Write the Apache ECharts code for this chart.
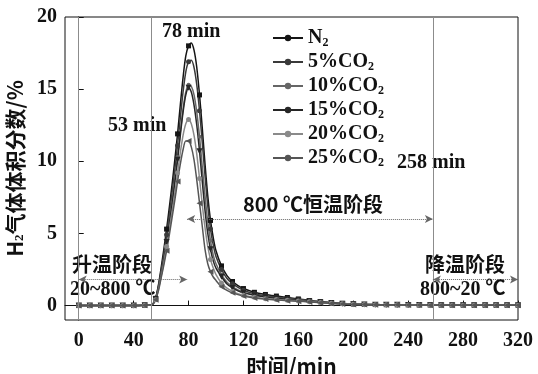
<!DOCTYPE html>
<html>
<head>
<meta charset="utf-8">
<script src="https://cdn.jsdelivr.net/npm/echarts@6/dist/echarts.min.js"></script>
<style>html,body{margin:0;padding:0;background:#fff}#c{width:538px;height:374px}</style>
</head>
<body>
<div id="c"></div>
<script>
// time (min)
var times = [0,8,16,24,32,40,48,
  52,54,56,58,60,62,64,66,68,70,72,74,76,78,80,82,84,86,88,90,92,94,96,98,100,
  104,108,112,116,120,
  128,136,144,152,160,168,176,184,192,200,208,216,224,232,240,248,256,264,272,280,288,296,304,312,320];
var seriesNames = ['N2','5%CO2','10%CO2','15%CO2','20%CO2','25%CO2'];
var valN2 = [0,0,0,0,0,0,0.02,
  0.05,0.1,0.5,1.4,2.6,3.9,5.3,6.8,8.4,10.1,11.9,13.9,15.8,17.3,18.0,18.2,17.7,16.5,14.6,12.3,9.8,7.6,5.9,4.7,3.8,
  2.75,2.08,1.67,1.39,1.18,
  0.92,0.77,0.66,0.56,0.46,0.35,0.27,0.2,0.15,0.11,0.08,0.07,0.06,0.05,0.05,0.04,0.04,0.03,0.03,0.03,0.02,0.02,0.02,0.02,0.02];
var valCO2_5 = [0,0,0,0,0,0,0.02,
  0.05,0.1,0.5,1.3,2.4,3.6,4.9,6.3,7.8,9.4,11.1,13.0,14.8,16.2,16.9,17.0,16.5,15.3,13.5,11.3,9.0,6.9,5.3,4.2,3.4,
  2.5,1.88,1.52,1.26,1.06,
  0.82,0.68,0.58,0.5,0.42,0.34,0.26,0.19,0.14,0.1,0.08,0.07,0.06,0.05,0.05,0.04,0.04,0.03,0.03,0.03,0.02,0.02,0.02,0.02,0.02];
var valCO2_10 = [0,0,0,0,0,0,0.02,
  0.05,0.1,0.5,1.2,2.2,3.3,4.5,5.8,7.2,8.7,10.3,12.0,13.6,14.8,15.3,15.2,14.6,13.4,11.7,9.6,7.6,5.8,4.5,3.5,2.9,
  2.15,1.62,1.31,1.08,0.92,
  0.74,0.62,0.53,0.46,0.39,0.32,0.25,0.18,0.13,0.1,0.08,0.07,0.06,0.05,0.05,0.04,0.04,0.03,0.03,0.03,0.02,0.02,0.02,0.02,0.02];
var valCO2_15 = [0,0,0,0,0,0,0.02,
  0.05,0.1,0.45,1.2,2.1,3.2,4.4,5.7,7.0,8.5,10.1,11.8,13.4,14.6,15.1,14.8,13.9,12.5,10.7,8.6,6.6,5.0,3.9,3.1,2.6,
  2.0,1.5,1.22,1.02,0.88,
  0.72,0.6,0.51,0.44,0.37,0.3,0.23,0.17,0.12,0.09,0.07,0.06,0.05,0.05,0.04,0.04,0.03,0.03,0.03,0.02,0.02,0.02,0.02,0.02,0.02];
var valCO2_20 = [0,0,0,0,0,0,0.02,
  0.05,0.1,0.4,1.1,2.0,3.0,4.1,5.3,6.5,7.8,9.2,10.6,11.8,12.6,12.9,12.6,11.8,10.5,8.8,7.0,5.4,4.1,3.2,2.6,2.15,
  1.57,1.21,0.98,0.82,0.72,
  0.57,0.48,0.42,0.37,0.32,0.27,0.21,0.16,0.12,0.09,0.07,0.06,0.05,0.05,0.04,0.04,0.03,0.03,0.03,0.02,0.02,0.02,0.02,0.02,0.02];
var valCO2_25 = [0,0,0,0,0,0,0.02,
  0.05,0.1,0.4,1.0,1.9,2.8,3.8,4.9,6.1,7.3,8.6,9.8,10.8,11.4,11.4,11.0,10.1,8.7,7.1,5.5,3.9,2.9,2.35,1.98,1.74,
  1.3,1.05,0.88,0.76,0.67,
  0.53,0.45,0.39,0.34,0.3,0.25,0.2,0.15,0.11,0.08,0.07,0.06,0.05,0.05,0.04,0.04,0.03,0.03,0.03,0.02,0.02,0.02,0.02,0.02,0.02];
var xTicks = [0,40,80,120,160,200,240,280,320];
var yTicks = [0,5,10,15,20];
var stageLines = [0,53,258];

var allVals = [valN2, valCO2_5, valCO2_10, valCO2_15, valCO2_20, valCO2_25];
var colors = ['#151515','#3a3a3a','#666666','#262626','#8a8a8a','#555555'];
var symbols = ['rect','circle','circle','triangle','circle','triangle'];
var rotates = [0,0,0,180,0,90];
var sizes = [5,5,4,6,5,6];

var SERIF = 'Liberation Serif';
var CJK = 'Noto Sans CJK SC';

var chart = echarts.init(document.getElementById('c'));
var series = seriesNames.map(function (n, i) {
  return {
    name: n, type: 'line', smooth: 0.3,
    data: times.map(function (t, k) { return [t, allVals[i][k]]; }),
    symbol: function (v) { return v[0] % 8 === 0 ? symbols[i] : 'none'; },
    symbolSize: sizes[i], symbolRotate: rotates[i],
    showAllSymbol: true,
    lineStyle: { color: colors[i], width: 1.5 },
    itemStyle: { color: colors[i] },
    z: 3
  };
});
series[0].markLine = {
  silent: true, symbol: 'none', label: { show: false },
  lineStyle: { color: '#8c8c8c', width: 1, type: 'solid' },
  data: stageLines.map(function (v) { return { xAxis: v }; })
};
series[1].markLine = {
  silent: true, symbol: ['arrow','arrow'], symbolSize: [6, 8], label: { show: false },
  lineStyle: { color: '#666', width: 1, type: 'dotted' },
  data: [
    [{ coord: [0, 1.8] }, { coord: [79, 1.8] }],
    [{ coord: [79, 6.0] }, { coord: [258, 6.0] }],
    [{ coord: [258, 1.8] }, { coord: [320, 1.8] }]
  ]
};

function txt(left, top, text, font) {
  return { type: 'text', left: left, top: top, z: 1,
    style: { text: text, font: font, fill: '#111' } };
}
var fN = "bold 20px 'Liberation Serif', 'Noto Sans CJK SC'";
var fC = "bold 20px 'Noto Sans CJK SC', 'Liberation Serif'";

chart.setOption({
  animation: false,
  textStyle: { fontFamily: SERIF },
  grid: { left: 65, right: 20, top: 17, bottom: 54, outerBoundsMode: 'none', containLabel: false,
    show: true, borderColor: '#111', borderWidth: 1, backgroundColor: 'transparent' },
  legend: {
    orient: 'vertical', left: 267, top: 22, itemWidth: 30, itemHeight: 8, itemGap: 2,
    data: seriesNames,
    formatter: function (n) { return n.replace(/2$/, '{s|2}'); },
    textStyle: { fontFamily: SERIF, fontSize: 20, fontWeight: 'bold', color: '#111', lineHeight: 20,
      rich: { s: { fontFamily: SERIF, fontSize: 12, fontWeight: 'bold', color: '#111', padding: [10, 0, 0, 0], lineHeight: 20 } } }
  },
  xAxis: {
    type: 'value', min: -10, max: 320,
    name: '时间/min', nameLocation: 'middle', nameGap: 27,
    nameTextStyle: { fontFamily: CJK, fontSize: 21, fontWeight: 'bold', color: '#111' },
    axisLine: { lineStyle: { color: '#111' } },
    axisTick: { inside: true, length: 5, customValues: xTicks, lineStyle: { color: '#111' } },
    axisLabel: { customValues: xTicks, fontFamily: SERIF, fontSize: 20, fontWeight: 'bold', color: '#111', margin: 11 },
    splitLine: { show: false }
  },
  yAxis: {
    type: 'value', min: -1, max: 20,
    name: 'H{s|2}气体体积分数/%', nameLocation: 'middle', nameGap: 36, nameRotate: 90,
    nameTextStyle: { fontFamily: CJK, fontSize: 21, fontWeight: 'bold', color: '#111',
      rich: { s: { fontFamily: SERIF, fontSize: 13, fontWeight: 'bold', padding: [10, 0, 0, 0] } } },
    axisLine: { lineStyle: { color: '#111' } },
    axisTick: { inside: true, length: 5, customValues: yTicks, lineStyle: { color: '#111' } },
    axisLabel: { customValues: yTicks, fontFamily: SERIF, fontSize: 20, fontWeight: 'bold', color: '#111', margin: 8 },
    splitLine: { show: false }
  },
  graphic: [
    txt(162, 22, '78 min', fN),
    txt(108, 116, '53 min', fN),
    txt(397, 153, '258 min', fN),
    txt(243, 194, '800 ℃恒温阶段', fC),
    txt(72, 254, '升温阶段', fC),
    txt(70, 280, '20~800 ℃', fN),
    txt(425, 254, '降温阶段', fC),
    txt(420, 280, '800~20 ℃', fN)
  ],
  series: series
});
</script>
</body>
</html>
